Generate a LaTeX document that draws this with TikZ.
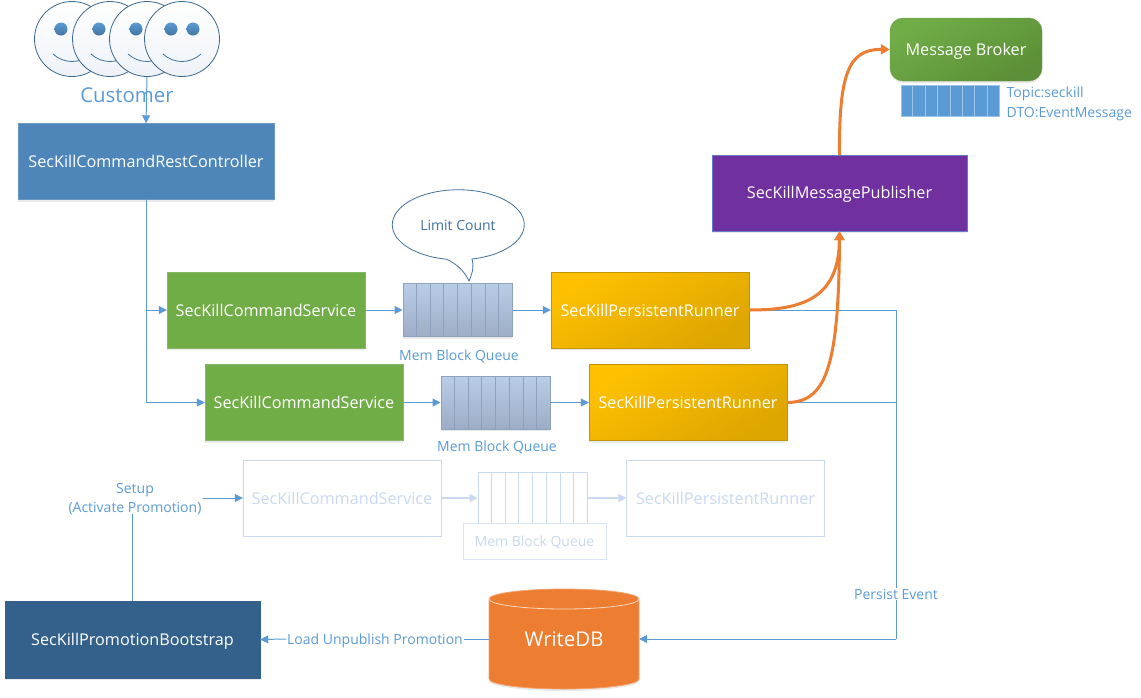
\documentclass[tikz,border=0pt]{standalone}
\usepackage{fontspec}
\setmainfont{Open Sans}
\usetikzlibrary{calc,arrows.meta,shadows}
\definecolor{lineblue}{HTML}{5B9BD5}
\definecolor{ghost}{HTML}{C9D9EF}
\definecolor{darkline}{HTML}{41719C}
\definecolor{ctrlc}{HTML}{4E86B9}
\definecolor{svcc}{HTML}{70AD47}
\definecolor{runa}{HTML}{FFC000}
\definecolor{runb}{HTML}{DDA600}
\definecolor{rund}{HTML}{C39300}
\definecolor{pubc}{HTML}{7030A0}
\definecolor{bootc}{HTML}{34618B}
\definecolor{dbc}{HTML}{ED7D31}
\definecolor{hotc}{HTML}{ED7D31}
\definecolor{quea}{HTML}{BACDE6}
\definecolor{queb}{HTML}{9DADC6}
\definecolor{quec}{HTML}{8EA2BD}
\definecolor{faceb}{HTML}{EEF2F8}
\definecolor{broka}{HTML}{70AD47}
\definecolor{brokb}{HTML}{5C8F37}
\newcommand{\fsz}[1]{\fontsize{#1}{19}\selectfont}
\tikzset{
  softshadow/.style={drop shadow={opacity=.16,shadow xshift=0pt,shadow yshift=-2pt}},
  box/.style={rectangle,minimum width=#1,inner sep=0pt,text=white,font=\fsz{16.2},text depth=0pt,softshadow},
  ctrlbox/.style={box=256pt,minimum height=76pt,fill=ctrlc,draw=ctrlc!85!white},
  svcbox/.style={box=198pt,minimum height=76pt,fill=svcc,draw=svcc!85!white},
  runbox/.style={box=198pt,minimum height=76pt,draw=rund,top color=runa,bottom color=runb,shading angle=30},
  ghostbox/.style={rectangle,draw=ghost,minimum width=198pt,minimum height=76pt,text=ghost,font=\fsz{16.2},text depth=0pt,inner sep=0pt},
  queue/.style={rectangle,minimum width=109pt,minimum height=53pt,inner sep=0pt,top color=quea,bottom color=queb,draw=quec,line width=1pt,softshadow},
  ghostqueue/.style={rectangle,minimum width=109pt,minimum height=51pt,inner sep=0pt,draw=ghost,line width=1pt},
  smallqueue/.style={rectangle,minimum width=98pt,minimum height=31pt,inner sep=0pt,fill=lineblue,draw=lineblue!60!white,line width=1pt},
  face/.style={circle,minimum size=75pt,inner sep=0pt,draw=darkline!90!black,line width=.8pt,top color=white,bottom color=faceb},
  eye/.style={circle,minimum size=13pt,inner sep=0pt,top color=lineblue,bottom color=darkline!90!lineblue},
  bluelabel/.style={text=lineblue,font=\fsz{14},text depth=0pt,inner sep=1pt,align=center},
  conn/.style={draw=lineblue,line width=1pt,-{Triangle[length=8pt,width=8pt]}},
  plainconn/.style={draw=lineblue,line width=1pt},
  ghostconn/.style={draw=ghost,line width=1.6pt,-{Triangle[length=8pt,width=8pt]}},
  hot/.style={draw=hotc,line width=3pt,-{Triangle[length=9pt,width=10pt]}},
}
\newcommand{\qbars}[2]{\foreach \i in {1,...,7}{\draw[#2,line width=1pt] ($(#1.north west)!\i/8!(#1.north east)$) -- ($(#1.south west)!\i/8!(#1.south east)$);}}
\newcommand{\happyface}[3]{%
  \node[face] (#1) at (#2,#3) {};
  \node[eye] (#1a) at ($(#1)+(-11pt,10pt)$) {};
  \node[eye] (#1b) at ($(#1)+(11pt,10pt)$) {};
  \draw[darkline,line width=.8pt] ($(#1)+(-19pt,-15pt)$) .. controls ($(#1)+(-8pt,-25pt)$) and ($(#1)+(8pt,-25pt)$) .. ($(#1)+(19pt,-15pt)$);
}
\begin{document}
\begin{tikzpicture}[x=1pt,y=-1pt]
\useasboundingbox[fill=white] (0,0) rectangle (1141,697);
% customers
\happyface{f1}{72}{39}
\happyface{f2}{110}{39}
\happyface{f3}{147}{39}
\happyface{f4}{182}{39}
\node[text=lineblue,font=\fsz{20.4},inner sep=0pt] (cust) at (127,95) {Customer};
% main boxes
\node[ctrlbox] (ctrl) at (146,161.5) {SecKillCommandRestController};
\node[svcbox] (svc1) at (266,310) {SecKillCommandService};
\node[queue] (q1) at (457.5,310) {};
\qbars{q1}{quec}
\node[runbox] (run1) at (650,310) {SecKillPersistentRunner};
\node[bluelabel] (q1l) at (459,355) {Mem Block Queue};
\node[svcbox] (svc2) at (304,402.5) {SecKillCommandService};
\node[queue] (q2) at (495.5,402.5) {};
\qbars{q2}{quec}
\node[runbox] (run2) at (688,402.5) {SecKillPersistentRunner};
\node[bluelabel] (q2l) at (497,446) {Mem Block Queue};
% ghost row
\node[ghostbox] (gsvc) at (342,498) {SecKillCommandService};
\node[ghostqueue] (gq) at (532.5,498) {};
\qbars{gq}{ghost}
\node[ghostbox] (grun) at (725.5,498) {SecKillPersistentRunner};
\node[rectangle,draw=ghost!70!white,line width=1pt,minimum width=143pt,minimum height=36pt,inner sep=0pt,text=ghost,font=\fsz{14},text depth=0pt] (gl) at (534.5,541) {Mem Block Queue};
% publisher and broker
\node[box=255pt,minimum height=76pt,fill=pubc,draw=lineblue!70!pubc] (pub) at (839.5,193) {\raisebox{1pt}{SecKillMessagePublisher}};
\node[rectangle,rounded corners=13pt,minimum width=152pt,minimum height=63pt,inner sep=0pt,text=white,font=\fsz{16.2},text depth=0pt,top color=broka,bottom color=brokb,shading angle=30,draw=brokb!90!white,softshadow] (brok) at (966,49.5) {Message Broker};
\node[smallqueue] (sq) at (950,100.5) {};
\qbars{sq}{lineblue!60!white}
\node[bluelabel,anchor=west] (topic) at (1005.5,92) {Topic:seckill};
\node[bluelabel,anchor=west] (dto) at (1005.5,112.5) {DTO:EventMessage};
% bottom
\node[box=255pt,minimum height=77pt,fill=bootc,draw=bootc] (boot) at (132.5,639.5) {SecKillPromotionBootstrap};
\coordinate (dbc0) at (564,639);
\fill[dbc,draw=dbc!70!white,line width=.8pt,softshadow] ($(dbc0)+(-75,-40)$) arc[start angle=180,end angle=360,x radius=75,y radius=10] -- ($(dbc0)+(75,40)$) arc[start angle=0,end angle=180,x radius=75,y radius=10] -- cycle;
\draw[white!70!dbc,line width=.8pt] ($(dbc0)+(-75,-40)$) arc[start angle=180,end angle=0,x radius=75,y radius=10];
\node[rectangle,minimum width=150pt,minimum height=100pt,inner sep=0pt,text=white,font=\fsz{20.4},text depth=0pt] (db) at (dbc0) {WriteDB};
\node[bluelabel] (setup) at (135,498) {Setup\\(Activate Promotion)};
\node[bluelabel,fill=white] (load) at (375,639) {Load Unpublish Promotion};
\coordinate (j1) at (896,310);
\coordinate (j2) at (896,402.5);
\coordinate (j3) at (896,639);
% bubble
\draw[darkline,line width=.8pt,fill=white] (472,259) arc[start angle=78,end angle=-260,x radius=66,y radius=35] coordinate (bl) .. controls (456,264) and (464,270) .. (469,281) coordinate (btip) .. controls (473,272) and (474,265) .. cycle;
\node[text=darkline,font=\fsz{14},inner sep=0pt] (lim) at (458,225) {Limit Count};
% connectors
\draw[conn] (f3.south) -- (ctrl.north);
\draw[conn] (ctrl.south) |- (svc1.west);
\draw[conn] (ctrl.south) |- (svc2.west);
\draw[conn] (svc1.east) -- (q1.west);
\draw[conn] (q1.east) -- (run1.west);
\draw[conn] (svc2.east) -- (q2.west);
\draw[conn] (q2.east) -- (run2.west);
\draw[ghostconn] (gsvc.east) -- (gq.west);
\draw[ghostconn] (gq.east) -- (grun.west);
\draw[plainconn] (run1.east) -- (j1) -- (j3);
\draw[plainconn] (run2.east) -- (j2);
\draw[conn] (j3) -- (db.east);
\draw[conn] (load.west) -- (boot.east);
\draw[plainconn] (db.west) -- (load.east);
\draw[plainconn] (boot.north) -- (boot.north |- setup.south);
\draw[conn] (setup.east) -- (gsvc.west);
\node[bluelabel,fill=white] (pe) at (896,594) {Persist Event};
\draw[hot] (run1.east) .. controls (800,310) and (839,300) .. (pub.south);
\draw[hot] (run2.east) .. controls (825,402) and (839,370) .. (pub.south);
\draw[hot] (pub.north) .. controls (839,75) and (848,49) .. (brok.west);
\end{tikzpicture}
\end{document}
